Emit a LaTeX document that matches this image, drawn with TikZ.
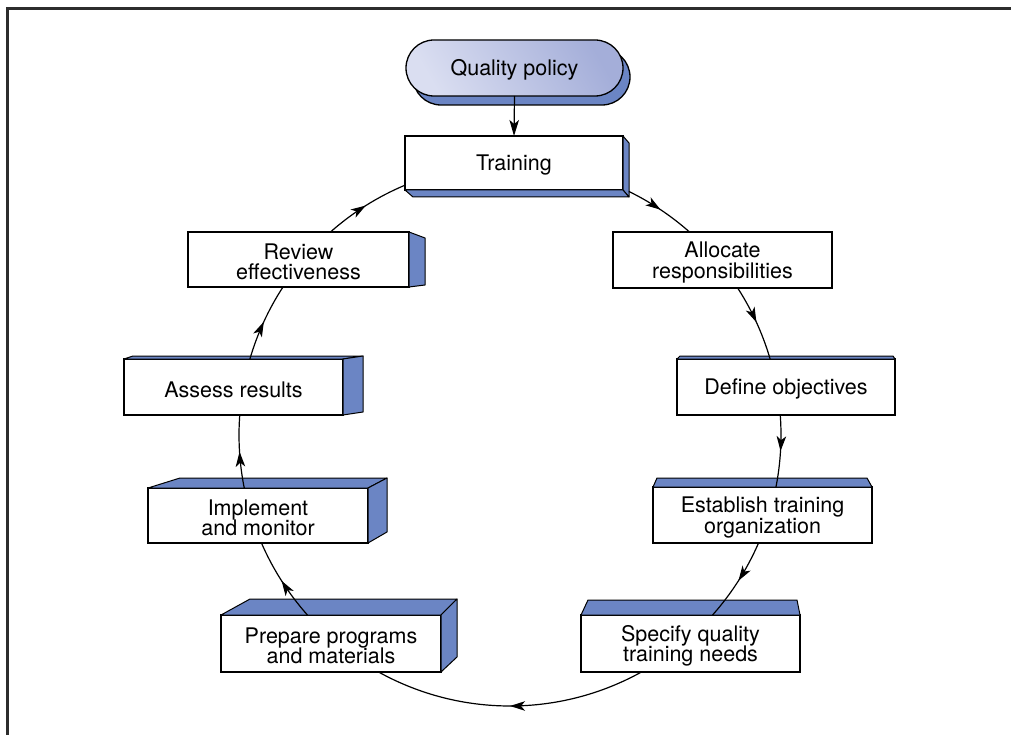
\documentclass[tikz,border=0pt]{standalone}
\usepackage{fontspec}
\setmainfont{TeX Gyre Heros}
\usetikzlibrary{arrows.meta,decorations.markings,shapes.misc}
\definecolor{qblue}{RGB}{107,133,196}
\definecolor{qlight}{RGB}{218,222,241}
\definecolor{qdark}{RGB}{164,174,217}
\definecolor{framegray}{RGB}{45,45,45}
\newcommand{\lowerstrut}{\rule{0pt}{20.5pt}}
\tikzset{
  box/.style={draw=black, line width=1.3pt, fill=white, inner sep=0pt, outer sep=0pt,
    minimum width=219pt, minimum height=56pt, align=center,
    font=\fontsize{21.5}{20.5}\selectfont},
  side/.style={draw=black, line width=1pt, fill=qblue, line join=round},
  conn/.style={line width=1.2pt, postaction={decorate},
    decoration={markings, mark=at position 0.5 with {\arrow{Stealth[length=15pt,width=9.5pt,inset=4pt]}}}},
  straightarrow/.style={line width=1.2pt, -{Stealth[length=16pt,width=9.5pt,inset=4pt]}},
  framestyle/.style={draw=framegray, line width=3pt}
}
\begin{document}
\begin{tikzpicture}[x=1pt,y=1pt]
\useasboundingbox (0,0) rectangle (1011,-735);
\draw[framestyle] (1011,-9) -- (7.5,-9) -- (7.5,-735);

% Quality policy (stadium with shadow)
\node[rounded rectangle, draw=black, line width=1.3pt, fill=qblue, minimum width=217pt,
  minimum height=56pt, inner sep=0pt, outer sep=0pt] (qpsh) at (521.5,-77) {};
\node[rounded rectangle, draw=black, line width=1.3pt, left color=qlight, right color=qdark,
  shading angle=120, minimum width=217pt, minimum height=56pt, inner sep=0pt, outer sep=0pt,
  font=\fontsize{21.5}{20.5}\selectfont] (qp) at (514.5,-68) {\rule{0pt}{20pt}Quality policy};

% Front faces
\node[box, minimum width=218pt, minimum height=54pt] (tr) at (514,-163) {\lowerstrut Training};
\node[box, minimum width=221pt, minimum height=55pt] (re) at (298.5,-259.5) {\lowerstrut Review\\effectiveness};
\node[box] (al) at (722.5,-260) {\lowerstrut Allocate\\responsibilities};
\node[box] (as) at (233.5,-387) {\lowerstrut Assess results};
\node[box, minimum width=218pt] (de) at (786,-387) {\lowerstrut Define objectives};
\node[box, minimum width=220pt, minimum height=55pt] (im) at (258,-515.5) {\lowerstrut Implement\\and monitor};
\node[box] (es) at (762.5,-515) {\lowerstrut Establish training\\organization};
\node[box, minimum width=220pt, minimum height=57pt] (pr) at (331,-643.5) {\lowerstrut Prepare programs\\and materials};
\node[box, minimum height=57pt] (sp) at (690.5,-643.5) {\lowerstrut Specify quality\\training needs};

% Extrusions
% Training
\draw[side] (tr.north east) -- ([shift={(6,-7)}]tr.north east) -- ([shift={(6,-7)}]tr.south east) -- (tr.south east) -- cycle;
\draw[side] (tr.south west) -- ([shift={(8,-7)}]tr.south west) -- ([shift={(6,-7)}]tr.south east) -- (tr.south east) -- cycle;
% Review
\draw[side] (re.north east) -- ([shift={(16,-6)}]re.north east) -- ([shift={(16,2)}]re.south east) -- (re.south east) -- cycle;
% Assess
\draw[side] (as.north west) -- ([shift={(9,3)}]as.north west) -- ([shift={(20,3)}]as.north east) -- (as.north east) -- cycle;
\draw[side] (as.north east) -- ([shift={(20,3)}]as.north east) -- ([shift={(20,3)}]as.south east) -- (as.south east) -- cycle;
% Implement
\draw[side] (im.north west) -- ([shift={(32,10)}]im.north west) -- ([shift={(19,10)}]im.north east) -- (im.north east) -- cycle;
\draw[side] (im.north east) -- ([shift={(19,10)}]im.north east) -- ([shift={(19,11)}]im.south east) -- (im.south east) -- cycle;
% Prepare
\draw[side] (pr.north west) -- ([shift={(29,16)}]pr.north west) -- ([shift={(16,16)}]pr.north east) -- (pr.north east) -- cycle;
\draw[side] (pr.north east) -- ([shift={(16,16)}]pr.north east) -- ([shift={(16,15)}]pr.south east) -- (pr.south east) -- cycle;
% Specify
\draw[side] (sp.north west) -- ([shift={(7,15)}]sp.north west) -- ([shift={(-3,15)}]sp.north east) -- (sp.north east) -- cycle;
% Establish
\draw[side] (es.north west) -- ([shift={(4,9)}]es.north west) -- ([shift={(-5,9)}]es.north east) -- (es.north east) -- cycle;
% Define
\draw[side] (de.north west) -- ([shift={(3,3)}]de.north west) -- ([shift={(-2,3)}]de.north east) -- (de.north east) -- cycle;

% Connectors
\coordinate (c) at (510,-435);
\draw[straightarrow] (qp.south) -- (tr.north);
\draw[conn] ([shift={(64:271)}]c) arc[start angle=64, end angle=48.5, radius=271];
\draw[conn] ([shift={(32.85:271)}]c) arc[start angle=32.85, end angle=16.3, radius=271];
\draw[conn] ([shift={(4.23:271)}]c) arc[start angle=4.23, end angle=-11.06, radius=271];
\draw[conn] ([shift={(-23.5:271)}]c) arc[start angle=-23.5, end angle=-41.6, radius=271];
\draw[conn] ([shift={(-61:271)}]c) arc[start angle=-61, end angle=-119, radius=271];
\draw[conn] ([shift={(-138.4:271)}]c) arc[start angle=-138.4, end angle=-156.5, radius=271];
\draw[conn] ([shift={(-168.7:271)}]c) arc[start angle=-168.7, end angle=-184.23, radius=271];
\draw[conn] ([shift={(-196.3:271)}]c) arc[start angle=-196.3, end angle=-213.1, radius=271];
\draw[conn] ([shift={(-228.5:271)}]c) arc[start angle=-228.5, end angle=-247.2, radius=271];
\end{tikzpicture}
\end{document}
